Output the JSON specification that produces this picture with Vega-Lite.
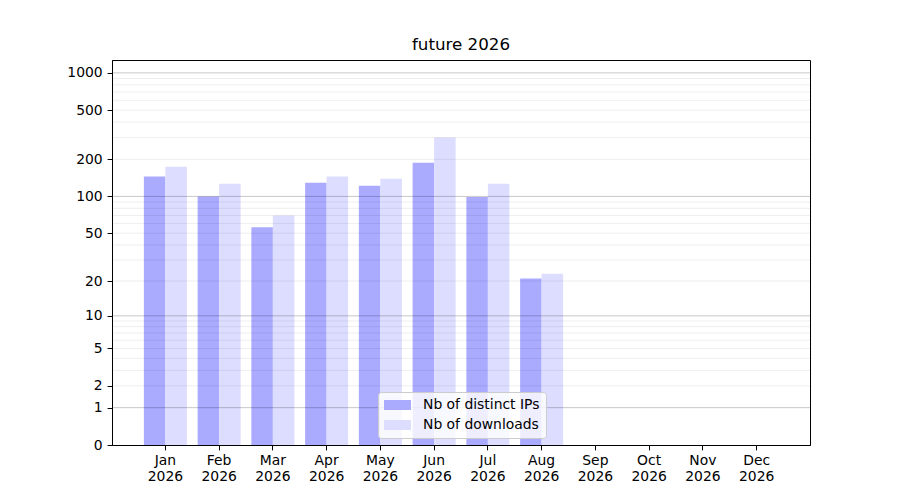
{
  "$schema": "https://vega.github.io/schema/vega-lite/v6.json",
  "width": 698,
  "height": 385,
  "autosize": {"type": "none"},
  "padding": {"left": 112, "top": 60, "right": 90, "bottom": 55},
  "background": "white",
  "title": {"text": "future 2026", "fontSize": 16.7, "font": "DejaVu Sans", "fontWeight": "normal", "color": "black", "offset": 6, "anchor": "middle"},
  "config": {"view": {"stroke": "black", "strokeWidth": 1}, "font": "DejaVu Sans", "axis": {"labelOverlap": false}, "axisY": {"labelOverlap": false}},
  "layer": [
    {
      "data": {"values": [
        {"month": "Jan 2026", "series": "Nb of distinct IPs", "value": 145},
        {"month": "Jan 2026", "series": "Nb of downloads", "value": 174},
        {"month": "Feb 2026", "series": "Nb of distinct IPs", "value": 100},
        {"month": "Feb 2026", "series": "Nb of downloads", "value": 127},
        {"month": "Mar 2026", "series": "Nb of distinct IPs", "value": 56},
        {"month": "Mar 2026", "series": "Nb of downloads", "value": 70},
        {"month": "Apr 2026", "series": "Nb of distinct IPs", "value": 129},
        {"month": "Apr 2026", "series": "Nb of downloads", "value": 145},
        {"month": "May 2026", "series": "Nb of distinct IPs", "value": 122},
        {"month": "May 2026", "series": "Nb of downloads", "value": 139},
        {"month": "Jun 2026", "series": "Nb of distinct IPs", "value": 188},
        {"month": "Jun 2026", "series": "Nb of downloads", "value": 300},
        {"month": "Jul 2026", "series": "Nb of distinct IPs", "value": 99},
        {"month": "Jul 2026", "series": "Nb of downloads", "value": 127},
        {"month": "Aug 2026", "series": "Nb of distinct IPs", "value": 21},
        {"month": "Aug 2026", "series": "Nb of downloads", "value": 23},
        {"month": "Sep 2026", "series": "Nb of distinct IPs", "value": 0},
        {"month": "Sep 2026", "series": "Nb of downloads", "value": 0},
        {"month": "Oct 2026", "series": "Nb of distinct IPs", "value": 0},
        {"month": "Oct 2026", "series": "Nb of downloads", "value": 0},
        {"month": "Nov 2026", "series": "Nb of distinct IPs", "value": 0},
        {"month": "Nov 2026", "series": "Nb of downloads", "value": 0},
        {"month": "Dec 2026", "series": "Nb of distinct IPs", "value": 0},
        {"month": "Dec 2026", "series": "Nb of downloads", "value": 0}
      ]},
      "mark": {"type": "bar"},
      "encoding": {
        "x": {
          "field": "month", "type": "ordinal", "sort": null,
          "scale": {"paddingInner": 0.2, "paddingOuter": 0.593},
          "axis": {"title": null, "labelAngle": 0, "labelExpr": "split(datum.label, ' ')", "labelLineHeight": 16, "labelFontSize": 13.9, "labelFont": "DejaVu Sans", "labelColor": "black", "labelPadding": 4, "tickSize": 4.9, "tickColor": "black", "domainColor": "black", "labelBaseline": "top", "labelOverlap": false}
        },
        "xOffset": {"field": "series", "type": "nominal", "sort": null, "scale": {"paddingInner": 0, "paddingOuter": 0}},
        "y": {
          "field": "value", "type": "quantitative",
          "scale": {"type": "symlog", "constant": 1, "domain": [0, 1270], "nice": false, "zero": false},
          "axis": {"title": null, "values": [0, 1, 2, 5, 10, 20, 50, 100, 200, 500, 1000], "format": "d", "grid": false, "labelOverlap": false, "labelFontSize": 13.9, "labelFont": "DejaVu Sans", "labelColor": "black", "labelPadding": 4.9, "tickSize": 4.9, "tickColor": "black", "domainColor": "black"}
        },
        "color": {
          "field": "series", "type": "nominal", "sort": null,
          "scale": {"domain": ["Nb of distinct IPs", "Nb of downloads"], "range": ["#aaaaff", "#ddddff"]},
          "legend": {"title": null, "orient": "none", "legendX": 266, "legendY": 332, "direction": "vertical", "symbolType": "M-1,-0.37L1,-0.37L1,0.37L-1,0.37Z", "symbolSize": 729, "symbolStrokeWidth": 0, "symbolOpacity": 1, "labelFontSize": 13.9, "labelFont": "DejaVu Sans", "labelColor": "black", "fillColor": "rgba(255,255,255,0.8)", "strokeColor": "#cccccc", "cornerRadius": 3, "padding": 6, "rowPadding": 6, "clipHeight": 14, "labelOffset": 12}
        }
      }
    },
    {
      "data": {"values": [
        {"g": 1, "kind": "major"}, {"g": 10, "kind": "major"}, {"g": 100, "kind": "major"}, {"g": 1000, "kind": "major"},
        {"g": 2, "kind": "minor"}, {"g": 3, "kind": "minor"}, {"g": 4, "kind": "minor"}, {"g": 5, "kind": "minor"}, {"g": 6, "kind": "minor"}, {"g": 7, "kind": "minor"}, {"g": 8, "kind": "minor"}, {"g": 9, "kind": "minor"},
        {"g": 20, "kind": "minor"}, {"g": 30, "kind": "minor"}, {"g": 40, "kind": "minor"}, {"g": 50, "kind": "minor"}, {"g": 60, "kind": "minor"}, {"g": 70, "kind": "minor"}, {"g": 80, "kind": "minor"}, {"g": 90, "kind": "minor"},
        {"g": 200, "kind": "minor"}, {"g": 300, "kind": "minor"}, {"g": 400, "kind": "minor"}, {"g": 500, "kind": "minor"}, {"g": 600, "kind": "minor"}, {"g": 700, "kind": "minor"}, {"g": 800, "kind": "minor"}, {"g": 900, "kind": "minor"}
      ]},
      "mark": {"type": "rule", "stroke": "black", "strokeWidth": 1},
      "encoding": {
        "y": {"field": "g", "type": "quantitative", "axis": {"title": null, "values": [0, 1, 2, 5, 10, 20, 50, 100, 200, 500, 1000], "format": "d", "grid": false, "labelOverlap": false}},
        "strokeOpacity": {"field": "kind", "type": "nominal", "scale": {"domain": ["major", "minor"], "range": [0.22, 0.07]}, "legend": null}
      }
    }
  ]
}
